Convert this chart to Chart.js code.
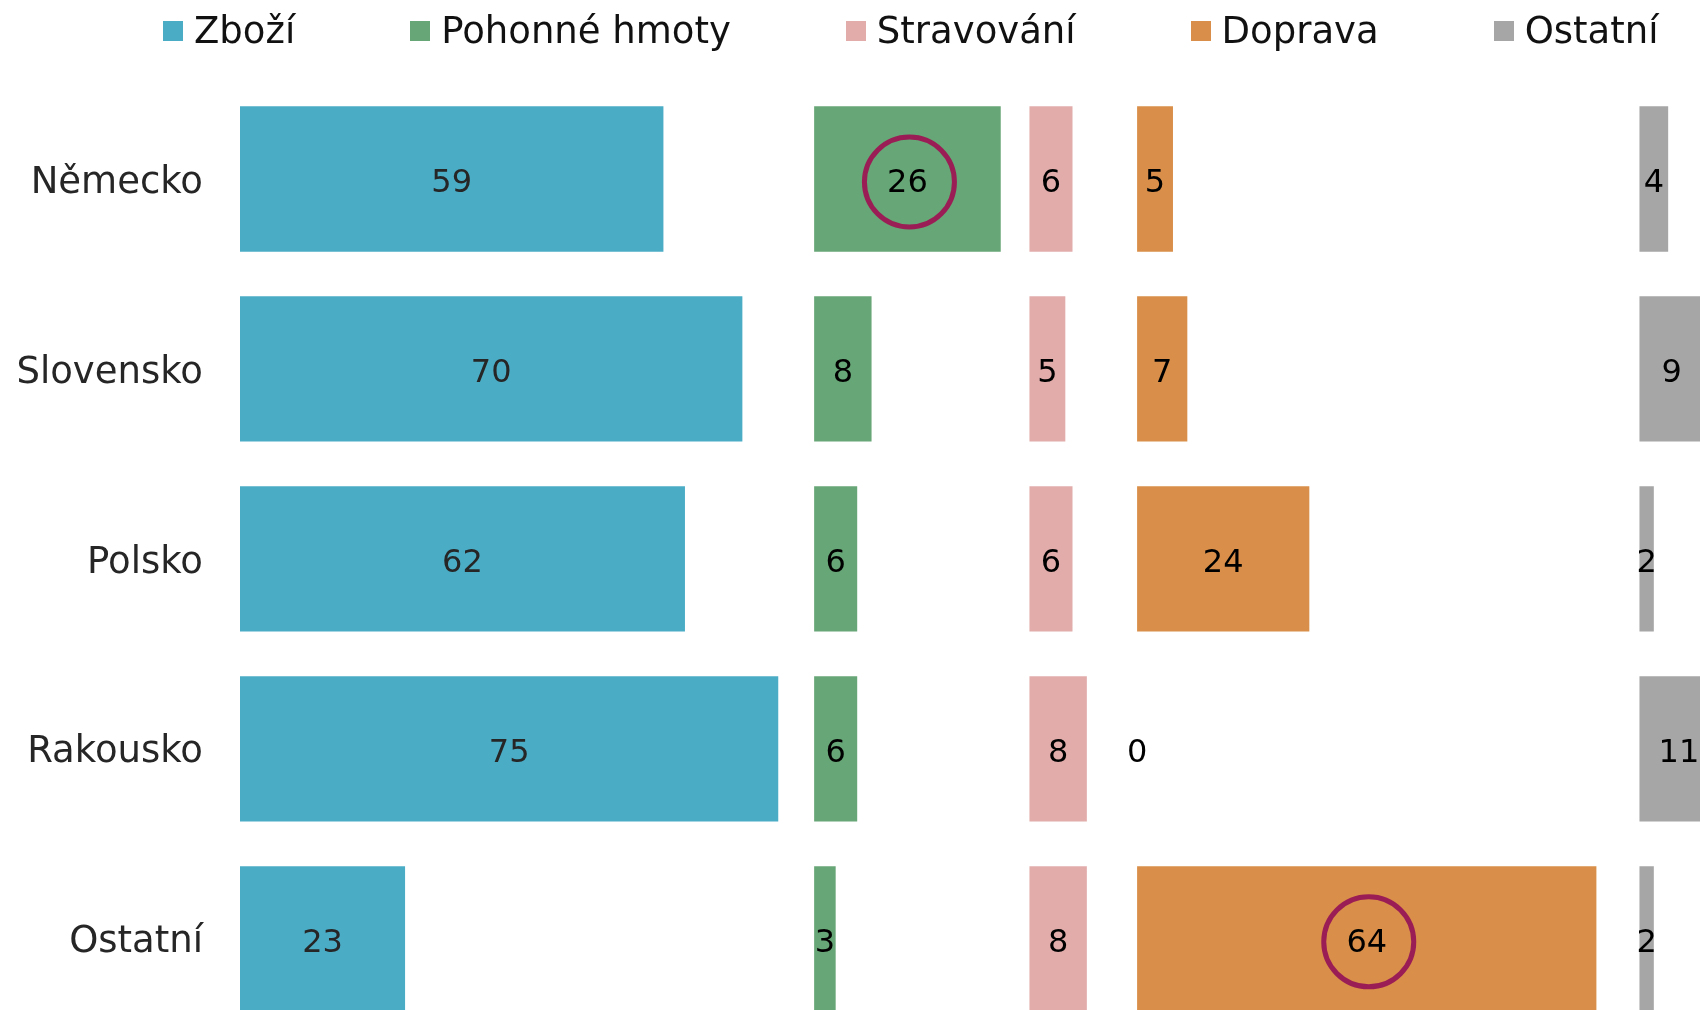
<!DOCTYPE html>
<html>
<head>
<meta charset="utf-8">
<script src="https://cdn.jsdelivr.net/npm/chart.js@4"></script>
<style>
html,body{margin:0;padding:0;overflow:hidden;background:#fff;}
#wrap{position:relative;width:1783px;height:1093px;}
#legend{position:absolute;left:163px;top:10px;display:flex;gap:115px;font-family:"DejaVu Sans",sans-serif;font-size:37px;color:#111;line-height:42px;}
#legend .it{display:flex;align-items:center;white-space:nowrap;}
#legend .sw{width:20px;height:20px;margin-right:11px;}
</style>
</head>
<body>
<div id="wrap">
  <div id="legend"></div>
  <canvas id="chart" width="1783" height="1093"></canvas>
</div>
<script>
const categories=["Německo","Slovensko","Polsko","Rakousko","Ostatní"];
const seriesNames=["Zboží","Pohonné hmoty","Stravování","Doprava","Ostatní"];

const zbozi=[59,70,62,75,23];
const pohonneHmoty=[26,8,6,6,3];
const stravovani=[6,5,6,8,8];
const doprava=[5,7,24,0,64];
const ostatni=[4,9,2,11,2];

// zvýrazněné hodnoty [serie, kategorie]
const highlighted=[[1,0],[3,4]];

// začátek každého panelu na ose x
const PANEL_START=[0,80,110,125,195];
const COLORS=["#4bacc6","#67a676","#e2acab","#d98f49","#a6a6a6"];
const LABEL_COLORS=["#262626","#000","#000","#000","#000"];
const FONT="DejaVu Sans";

const series=[zbozi,pohonneHmoty,stravovani,doprava,ostatni];

// legenda
const legend=document.getElementById("legend");
seriesNames.forEach((n,k)=>{
  const it=document.createElement("div");
  it.className="it";
  const sw=document.createElement("span");
  sw.className="sw";
  sw.style.background=COLORS[k];
  it.appendChild(sw);
  it.appendChild(document.createTextNode(n));
  legend.appendChild(it);
});

const valueLabels={
  id:"valueLabels",
  afterDatasetsDraw(chart){
    const ctx=chart.ctx;
    ctx.save();
    ctx.font="32px '"+FONT+"'";
    ctx.textAlign="center";
    ctx.textBaseline="middle";
    chart.data.datasets.forEach((ds,k)=>{
      chart.getDatasetMeta(k).data.forEach((bar,i)=>{
        const cx=(bar.base+bar.x)/2;
        ctx.fillStyle=LABEL_COLORS[k];
        ctx.fillText(String(series[k][i]),cx,bar.y+5);
        if(highlighted.some(h=>h[0]===k&&h[1]===i)){
          ctx.beginPath();
          ctx.strokeStyle="#9b1d56";
          ctx.lineWidth=5;
          ctx.arc(cx+2,bar.y+3,45,0,Math.PI*2);
          ctx.stroke();
        }
      });
    });
    ctx.restore();
  }
};

new Chart(document.getElementById("chart"),{
  type:"bar",
  data:{
    labels:categories,
    datasets:series.map((vals,k)=>({
      label:seriesNames[k],
      data:vals.map(v=>[PANEL_START[k],PANEL_START[k]+v]),
      backgroundColor:COLORS[k],
      borderWidth:0,
      grouped:false,
      barPercentage:0.765,
      categoryPercentage:1
    }))
  },
  options:{
    indexAxis:"y",
    responsive:false,
    animation:false,
    layout:{padding:{top:84,left:0,right:0,bottom:0}},
    plugins:{legend:{display:false},tooltip:{enabled:false}},
    scales:{
      x:{display:false,min:0,max:215},
      y:{
        grid:{display:false,drawTicks:false},
        border:{display:false},
        ticks:{padding:37,labelOffset:4,color:"#262626",font:{family:FONT,size:37}},
        afterFit(s){s.width=240;}
      }
    }
  },
  plugins:[valueLabels]
});
</script>
</body>
</html>
